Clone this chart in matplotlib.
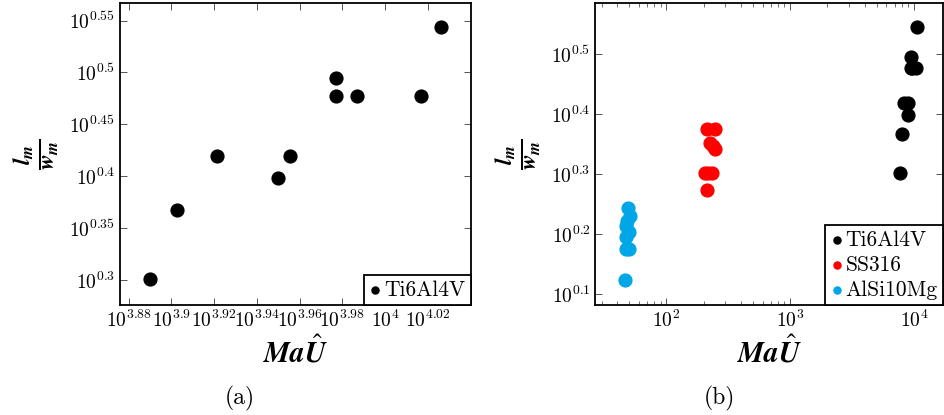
import numpy as np
import matplotlib
matplotlib.use("Agg")
import matplotlib.pyplot as plt
from matplotlib.ticker import FixedLocator, FuncFormatter, NullLocator, LogLocator

plt.rcParams['font.family'] = 'serif'
plt.rcParams['font.serif'] = ['cmr10', 'DejaVu Serif']
plt.rcParams['mathtext.fontset'] = 'cm'
plt.rcParams['axes.formatter.use_mathtext'] = True

# data
ti_x = [7760, 7990, 8344, 8906, 9030, 9484, 9484, 9705, 10394, 10624]
ti_y = [2.0, 2.33, 2.625, 2.5, 2.625, 3.125, 3.0, 3.0, 3.0, 3.5]

ss_x = [213, 245, 226, 236, 245, 205, 215, 232, 212]
ss_y = [2.375, 2.375, 2.244, 2.22, 2.2, 2.0, 2.0, 2.0, 1.875]

al_x = [49.0, 51.3, 48.1, 47.5, 49.5, 47.0, 47.0, 50.0, 46.1]
al_y = [1.75, 1.70, 1.665, 1.633, 1.60, 1.57, 1.50, 1.50, 1.33]

a_xticks = [3.88, 3.90, 3.92, 3.94, 3.96, 3.98, 4.0, 4.02]
a_yticks = [0.30, 0.35, 0.40, 0.45, 0.50, 0.55]
b_yticks = [0.1, 0.2, 0.3, 0.4, 0.5]

cyan = '#00a6e6'
ms = 85


def pow_fmt(v, pos):
    e = np.log10(v)
    s = ('%.2f' % e).rstrip('0').rstrip('.')
    return r'$10^{%s}$' % s


def style(ax):
    ax.tick_params(which='both', direction='in', top=True, right=True,
                   labelsize=14, color='#555555')
    ax.tick_params(which='major', length=5, width=0.7)
    ax.tick_params(which='minor', length=3, width=0.6)
    for sp in ax.spines.values():
        sp.set_linewidth(1.3)
    ax.set_xlabel(r'$\mathbfit{Ma}\hat{\mathbfit{U}}$', fontsize=21, labelpad=4,
                  math_fontfamily='stix')
    ax.set_ylabel(r'$\mathbfit{\frac{l_m}{w_m}}$', fontsize=24, labelpad=6,
                  math_fontfamily='stix')


def legend(ax, sp):
    lg = ax.legend(loc='lower right', fontsize=15.5, fancybox=False, framealpha=1,
                   edgecolor='black', handletextpad=0.1, borderpad=0.25,
                   markerscale=0.55, handlelength=0.6, borderaxespad=0,
                   labelspacing=sp)
    lg.get_frame().set_linewidth(1.3)


fig = plt.figure(figsize=(9.45, 4.15), dpi=100)
axa = fig.add_axes([0.127, 0.265, 0.371, 0.728])
axb = fig.add_axes([0.630, 0.265, 0.368, 0.728])

# (a)
axa.scatter(ti_x, ti_y, s=ms, color='black', label='Ti6Al4V', zorder=3)
axa.set_xscale('log')
axa.set_yscale('log')
axa.set_xlim(10**3.876, 10**4.04)
axa.set_ylim(10**0.276, 10**0.567)
axa.xaxis.set_major_locator(FixedLocator([10**t for t in a_xticks]))
axa.yaxis.set_major_locator(FixedLocator([10**t for t in a_yticks]))
axa.xaxis.set_major_formatter(FuncFormatter(pow_fmt))
axa.yaxis.set_major_formatter(FuncFormatter(pow_fmt))
axa.xaxis.set_minor_locator(NullLocator())
axa.yaxis.set_minor_locator(NullLocator())
style(axa)
legend(axa, 0.2)

# (b)
axb.scatter(ti_x, ti_y, s=ms, color='black', label='Ti6Al4V', zorder=3)
axb.scatter(ss_x, ss_y, s=ms, color='red', label='SS316', zorder=3)
axb.scatter(al_x, al_y, s=ms, color=cyan, label='AlSi10Mg', zorder=3)
axb.set_xscale('log')
axb.set_yscale('log')
axb.set_xlim(26.7, 17200)
axb.set_ylim(10**0.082, 10**0.585)
axb.xaxis.set_major_locator(FixedLocator([100, 1000, 10000]))
axb.xaxis.set_major_formatter(FuncFormatter(pow_fmt))
axb.xaxis.set_minor_locator(LogLocator(base=10, subs=np.arange(2, 10)))
axb.yaxis.set_major_locator(FixedLocator([10**t for t in b_yticks]))
axb.yaxis.set_major_formatter(FuncFormatter(pow_fmt))
axb.yaxis.set_minor_locator(NullLocator())
style(axb)
legend(axb, 0.25)

fig.text(0.254, 0.04, '(a)', ha='center', va='center', fontsize=17)
fig.text(0.761, 0.04, '(b)', ha='center', va='center', fontsize=17)

fig.savefig('out.png', dpi=100)
